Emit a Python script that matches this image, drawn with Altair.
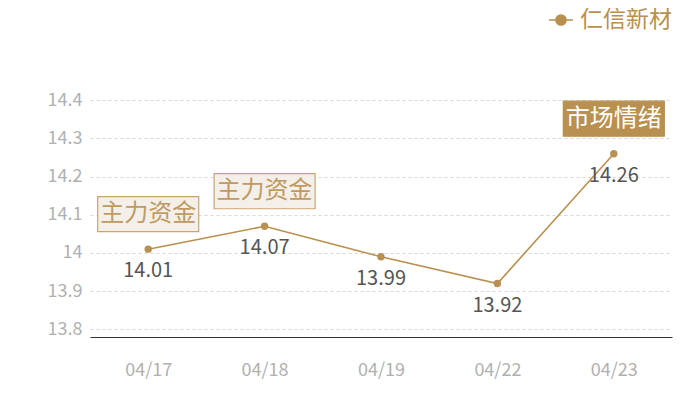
import altair as alt
import pandas as pd

dates = ["04/17", "04/18", "04/19", "04/22", "04/23"]
values = [14.01, 14.07, 13.99, 13.92, 14.26]
series_name = "仁信新材"

ann_dates = ["04/17", "04/18", "04/23"]
ann_values = [14.01, 14.07, 14.26]
ann_texts = ["主力资金", "主力资金", "市场情绪"]
ann_kind = ["light", "light", "dark"]

y_ticks = [13.8, 13.9, 14.0, 14.1, 14.2, 14.3, 14.4]

GOLD = "#b8904f"
FONT = "Noto Sans CJK SC"

df = pd.DataFrame({"date": dates, "value": values, "series": [series_name] * len(dates)})
ann = pd.DataFrame({"date": ann_dates, "value": ann_values, "text": ann_texts, "kind": ann_kind})

x_enc = alt.X("date:N", sort=dates, scale=alt.Scale(type="point", padding=0.5),
              axis=alt.Axis(title=None, labelAngle=0, domain=True, domainColor="#333333",
                            domainWidth=1, ticks=False, labelColor="#b0b0b0",
                            labelFontSize=18, labelFont=FONT, labelPadding=24, grid=False))
y_enc = alt.Y("value:Q", scale=alt.Scale(domain=[13.780, 14.631], nice=False, zero=False),
              axis=alt.Axis(title=None, values=y_ticks, format="~g", domain=False, ticks=False,
                            labelColor="#b0b0b0", labelFontSize=18, labelFont=FONT,
                            labelPadding=8, grid=True, gridColor="#d6d6d6",
                            gridDash=[3, 3], gridWidth=1))

legend_path = "M-1,0H1M-0.42,0A0.42,0.42,0,1,1,0.42,0A0.42,0.42,0,1,1,-0.42,0Z"

line = alt.Chart(df).mark_line(strokeWidth=1.6).encode(
    x=x_enc, y=y_enc,
    color=alt.Color("series:N", scale=alt.Scale(range=[GOLD]),
                    legend=alt.Legend(title=None, orient="none", legendX=458, legendY=-5,
                                      symbolType=legend_path, symbolSize=576,
                                      symbolStrokeWidth=1.6, symbolFillColor=GOLD,
                                      symbolStrokeColor=GOLD, labelFontSize=23,
                                      labelFont=FONT, labelColor=GOLD, labelOffset=6,
                                      labelLimit=300, padding=0)),
)

points = alt.Chart(df).mark_point(filled=True, size=55, opacity=1, color=GOLD).encode(
    x=x_enc, y=y_enc)

labels = alt.Chart(df).mark_text(dy=22, fontSize=20, font=FONT, color="#555555").encode(
    x=x_enc, y=y_enc, text=alt.Text("value:Q", format=".2f"))

box_path = "M-1,-0.347H1V0.347H-1Z"
boxes = alt.Chart(ann).mark_point(shape=box_path, size=101 * 101, filled=True, opacity=1,
                                   yOffset=-35, strokeWidth=1.2).encode(
    x=x_enc, y=y_enc,
    fill=alt.Fill("kind:N", scale=alt.Scale(domain=["light", "dark"],
                                            range=["#f4efe9", "#b8904f"]), legend=None),
    stroke=alt.Stroke("kind:N", scale=alt.Scale(domain=["light", "dark"],
                                                range=["#c9a56f", "#b8904f"]), legend=None),
)

ann_text = alt.Chart(ann).mark_text(dy=-35, fontSize=24, font=FONT, baseline="middle").encode(
    x=x_enc, y=y_enc, text="text:N",
    color=alt.Color("kind:N", scale=alt.Scale(domain=["light", "dark"],
                                              range=["#c09a5f", "#ffffff"]), legend=None),
)

chart = alt.layer(line, points, labels, boxes, ann_text).resolve_scale(
    color="independent"
).properties(
    width=582, height=325,
    autosize=alt.AutoSizeParams(type="none"),
    padding={"left": 82, "top": 4, "right": 20, "bottom": 50},
).configure_view(stroke=None)

chart.save("out.html", embed_options={"renderer": "svg", "actions": False})
